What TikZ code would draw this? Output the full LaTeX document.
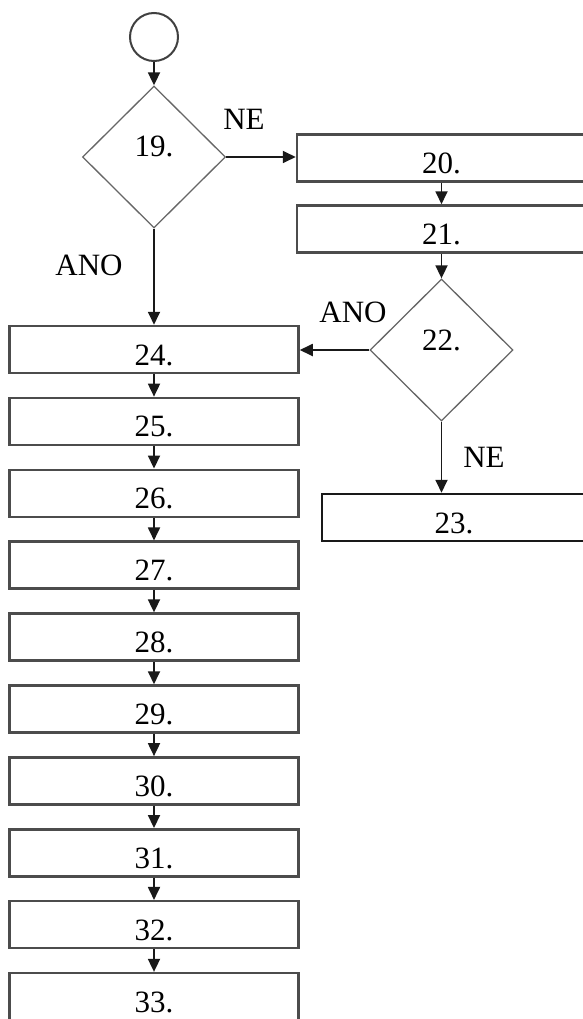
\documentclass[tikz,border=0pt]{standalone}
\usepackage{fontspec}
\setmainfont{Liberation Serif}
\usetikzlibrary{shapes.geometric,arrows.meta}

\tikzset{
  blok/.style={draw=black!70, line width=2.5pt, minimum width=289pt, minimum height=47pt,
    inner sep=0pt, text height=31pt, text depth=0pt},
  rozhod/.style={diamond, draw=black!60, line width=1.3pt, minimum width=143pt,
    minimum height=142pt, inner sep=0pt, text height=20pt, text depth=20pt},
  sipka/.style={draw=black!90, line width=1.8pt, -{Triangle[length=13pt,width=12pt]}},
  popis/.style={anchor=base}
}

\begin{document}
\begin{tikzpicture}[x=1pt, y=-1pt, font=\fontsize{31}{37}\selectfont]
        % y roste dolu, 1 jednotka = 1 px predlohy
        \useasboundingbox (0,0) rectangle (583,1019);
        \clip (0,0) rectangle (583,1019);

        % start
        \node[circle, draw=black!75, line width=2pt, minimum size=48pt, inner sep=0pt] (start) at (154,37) {};

        % rozhodnuti 19 a vetev NE
        \node[rozhod] (d19) at (154,157) {19.};
        \node[blok] (b20) at (441.5,158) {20.};
        \node[blok] (b21) at (441.5,229) {21.};
        \node[rozhod] (d22) at (441.5,350) {22.};
        \node[blok, minimum width=264pt, draw=black!90] (b23) at (454,517.5) {23.};

        % hlavni sloupec 24.--33.
        \foreach \n [count=\i from 0] in {24,...,33}
            \node[blok] (b\n) at (154,349.5+71.9*\i) {\n.};

        % popisky vetvi
        \node[popis] (ne1) at (244,130) {NE};
        \node[popis] (ano1) at (89,275) {ANO};
        \node[popis] (ano2) at (353,322) {ANO};
        \node[popis] (ne2) at (484,467) {NE};

        % sipky
        \draw[sipka] (start) -- (d19);
        \draw[sipka] (d19.east) -- (d19.east -| b20.west);
        \draw[sipka] (b20) -- (b21);
        \draw[sipka] (b21) -- (d22);
        \draw[sipka] (d19) -- (b24);
        \draw[sipka] (d22.west) -- (d22.west -| b24.east);
        \draw[sipka] (d22.south) -- (d22.south |- b23.north);
        \foreach \n [evaluate=\n as \m using int(\n+1)] in {24,...,32}
            \draw[sipka] (b\n) -- (b\m);
    \end{tikzpicture}
\end{document}
